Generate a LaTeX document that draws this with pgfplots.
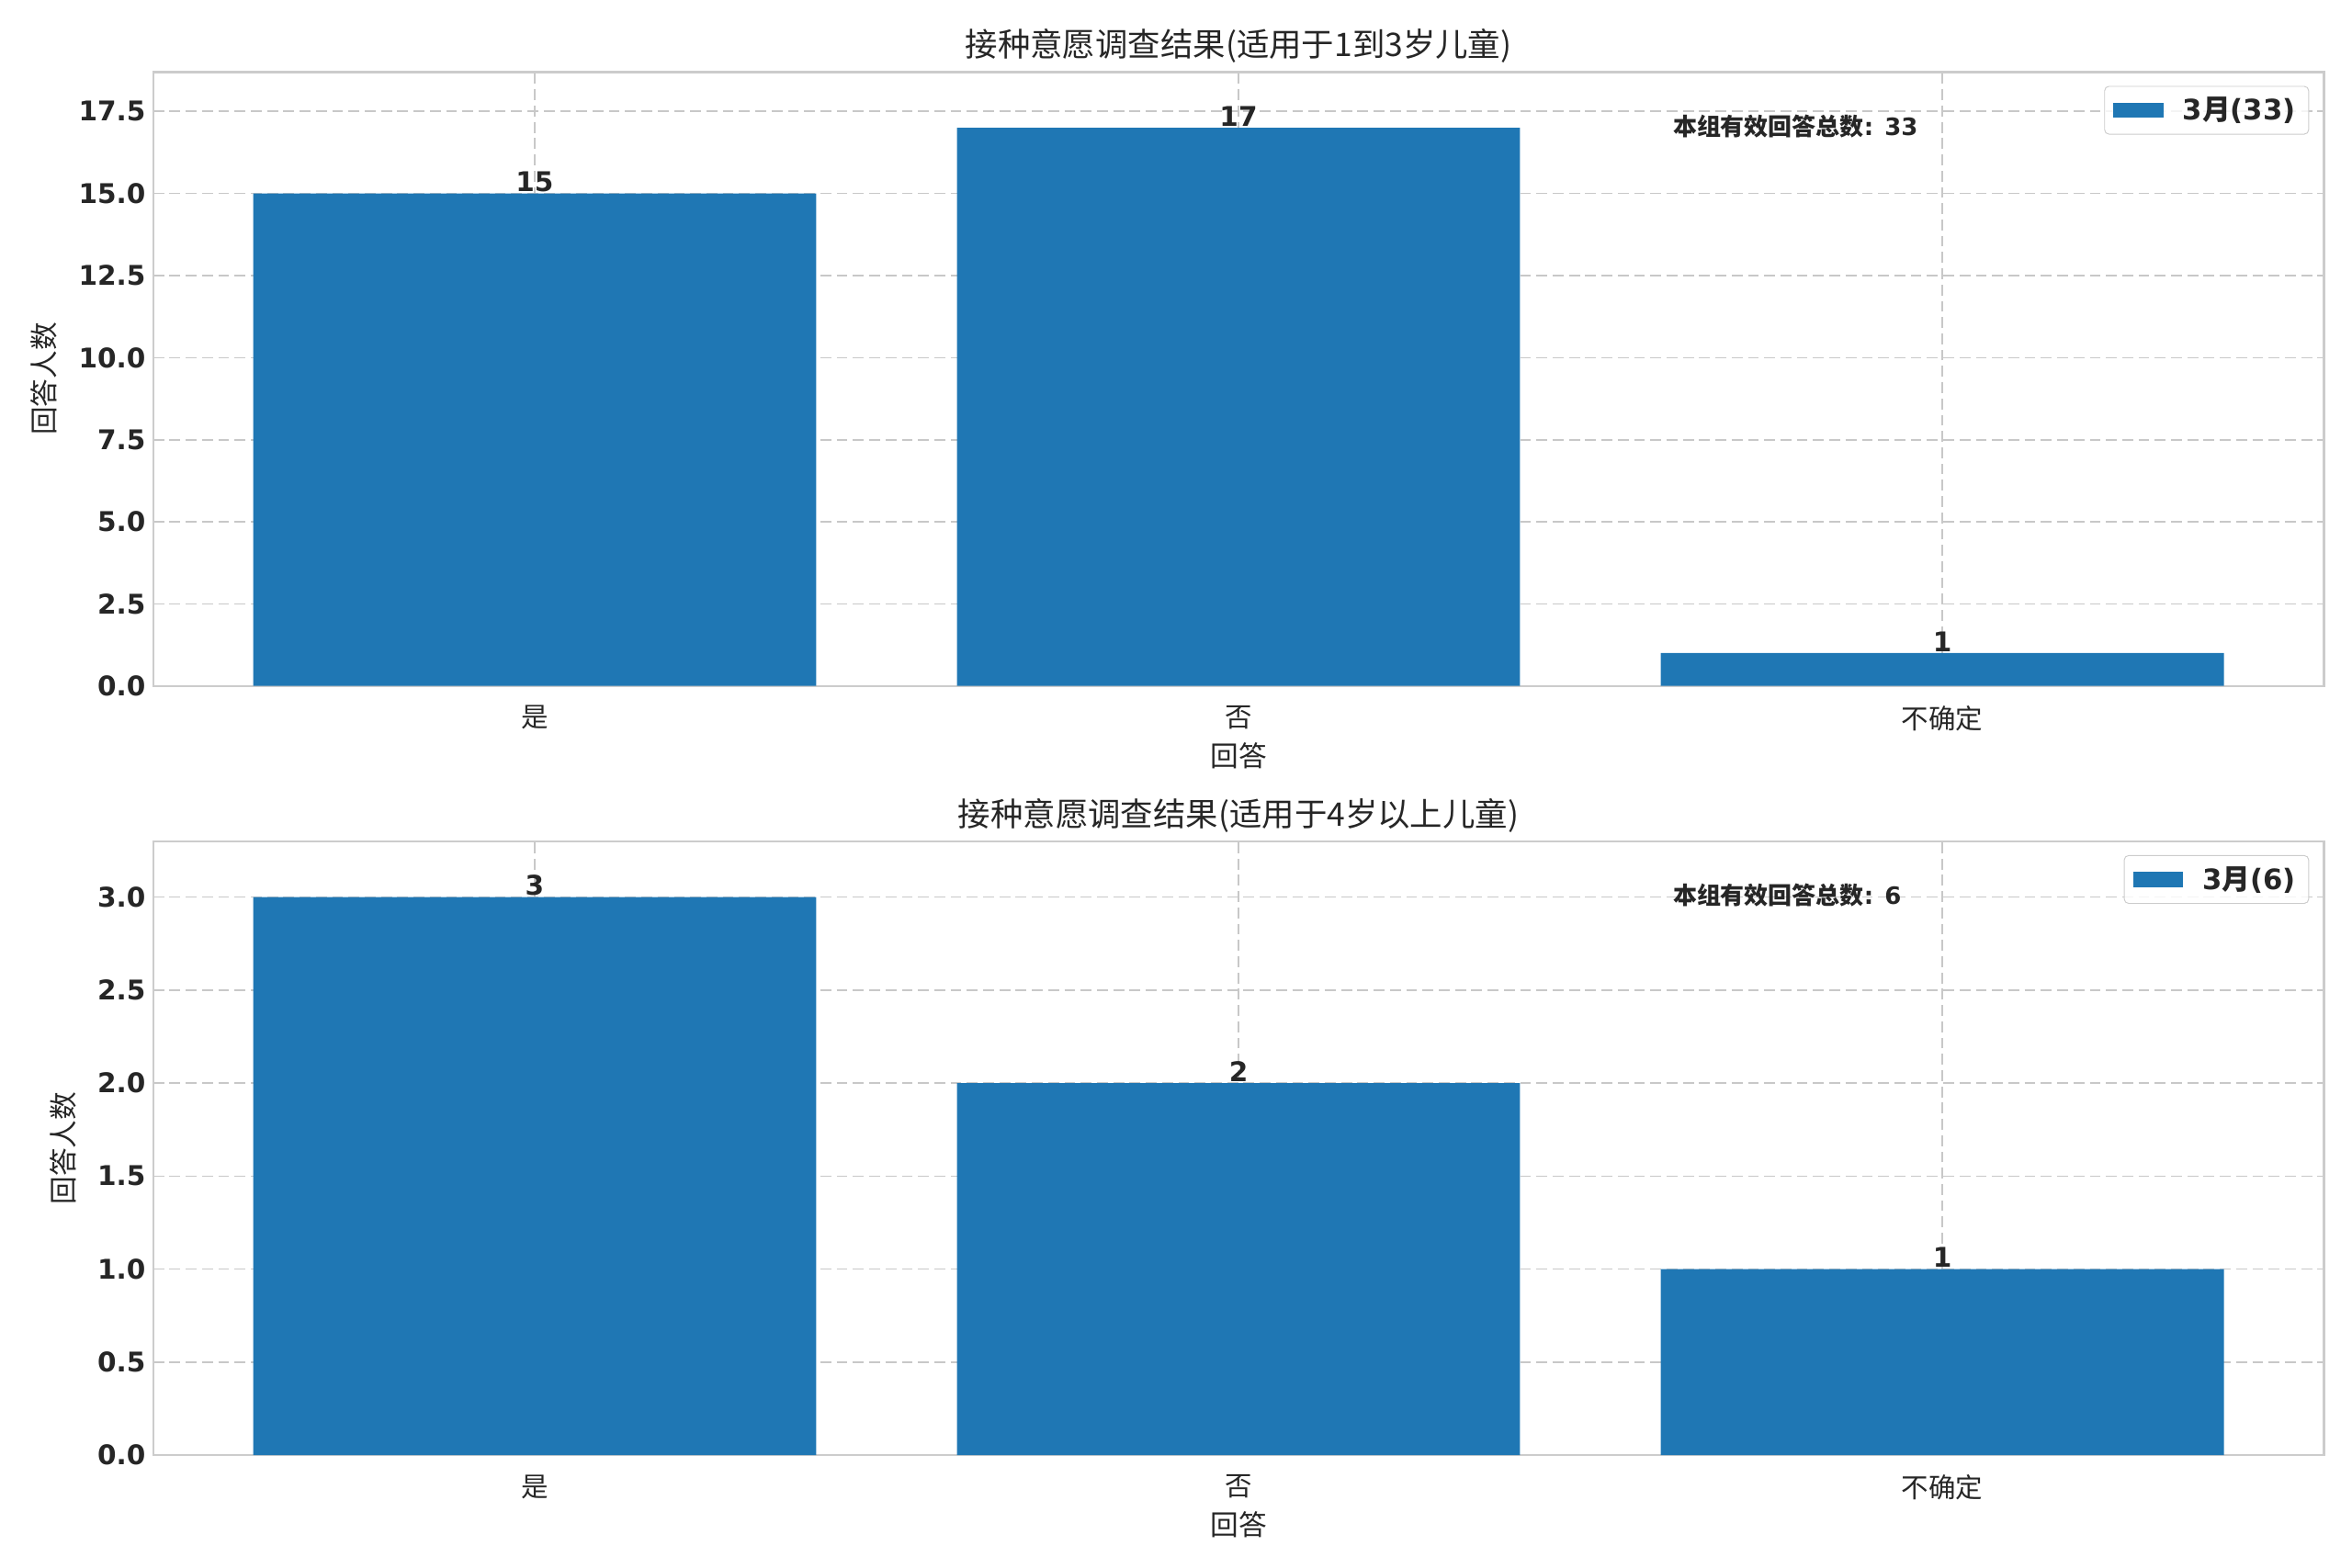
\documentclass[border=0pt]{standalone}
\usepackage{fontspec}
\setmainfont{DejaVu Sans}
\newfontfamily\cjk{Noto Sans CJK SC}
\usepackage{pgfplots}
\pgfplotsset{compat=1.18}
\definecolor{barblue}{RGB}{31,119,180}
\definecolor{spine}{RGB}{204,204,204}
\definecolor{gridc}{RGB}{200,200,200}
\definecolor{txt}{RGB}{38,38,38}
\pgfplotsset{
  mystyle/.style={
    scale only axis, width=1000.4pt, height=283pt,
    xmin=-0.542, xmax=2.542, ymin=0,
    xtick={0,1,2},
    xticklabels={{\cjk 是},{\cjk 否},{\cjk 不确定}},
    x tick label style={font=\fontsize{12.5}{14}\selectfont, text=txt, yshift=-5.5pt},
    y tick label style={font=\bfseries\fontsize{12.5}{14}\selectfont, text=txt},
    yticklabel={\pgfmathprintnumber[fixed,fixed zerofill,precision=1,assume math mode=true]{\tick}},
    axis line style={draw=spine, line width=1pt},
    major tick length=0pt,
    grid=major,
    major grid style={dash pattern=on 5pt off 2.5pt, draw=gridc, line width=0.7pt},
    ybar, bar width=0.8,
    nodes near coords={\pgfmathprintnumber[fixed,precision=0,assume math mode=true]{\pgfplotspointmeta}},
    nodes near coords style={font=\bfseries\fontsize{12.5}{14}\selectfont, text=txt, anchor=south, inner sep=0pt, yshift=0.5pt},
    title style={font=\cjk\fontsize{15}{17}\selectfont, text=txt, at={(0.5,1)}, anchor=south, yshift=-5.5pt},
    xlabel style={font=\cjk\fontsize{13}{15}\selectfont, text=txt, yshift=1.5pt},
    ylabel style={font=\cjk\fontsize{13}{15}\selectfont, text=txt, yshift=3pt},
    xlabel={回答}, ylabel={回答人数},
    legend style={at={(1,1)}, anchor=north east, xshift=-6.8pt, yshift=-6.4pt,
      draw=spine, rounded corners=2pt, fill=white, fill opacity=0.8, draw opacity=1, text opacity=1,
      font=\bfseries\fontsize{13}{15}\selectfont, text=txt, inner xsep=4pt, inner ysep=3pt},
    legend image code/.code={\fill[barblue, sharp corners, fill opacity=1] (0pt,-3.5pt) rectangle (23pt,3.5pt); \path (30pt,0pt);},
    legend cell align=left,
  }
}
\begin{document}
\begin{tikzpicture}
\useasboundingbox (0,0) rectangle (1084pt,722.7pt);
\begin{axis}[mystyle, at={(70.6pt,406.5pt)}, anchor=south west,
  ymax=18.7, ytick={0,2.5,5,7.5,10,12.5,15,17.5},
  title={接种意愿调查结果(适用于1到3岁儿童)}]
\addplot[fill=barblue, draw=none] coordinates {(0,15) (1,17) (2,1)};
\addlegendentry{3{\cjk 月}(33)}
\node[anchor=west, font=\bfseries\fontsize{11}{13}\selectfont, text=txt, inner sep=0pt] at (rel axis cs:0.7,0.912) {{\cjk 本组有效回答总数}: 33};
\end{axis}
\begin{axis}[mystyle, at={(70.6pt,51.9pt)}, anchor=south west,
  ymax=3.3, ytick={0,0.5,1,1.5,2,2.5,3},
  title={接种意愿调查结果(适用于4岁以上儿童)}]
\addplot[fill=barblue, draw=none] coordinates {(0,3) (1,2) (2,1)};
\addlegendentry{3{\cjk 月}(6)}
\node[anchor=west, font=\bfseries\fontsize{11}{13}\selectfont, text=txt, inner sep=0pt] at (rel axis cs:0.7,0.912) {{\cjk 本组有效回答总数}: 6};
\end{axis}
\end{tikzpicture}
\end{document}
